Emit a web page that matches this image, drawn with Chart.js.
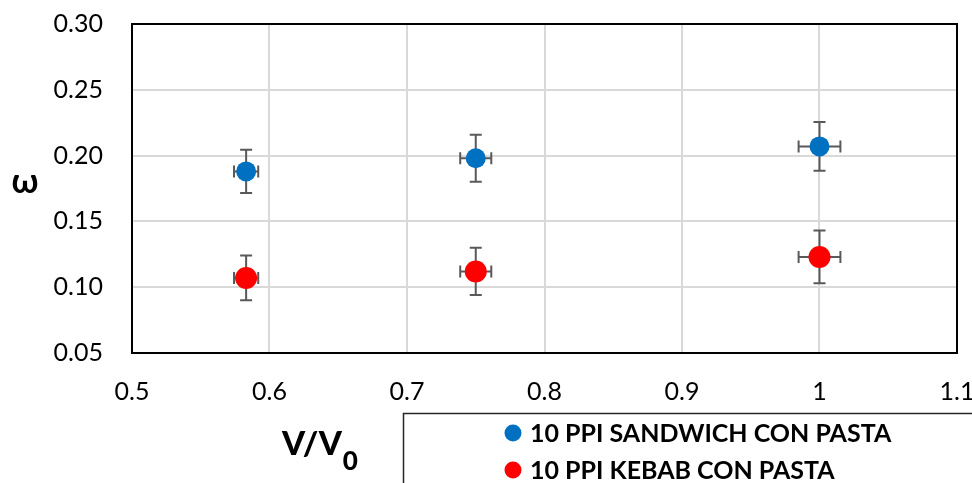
<!doctype html>
<html lang="en">
  <head>
    <meta charset="utf-8">
    <title>V/V0 vs omega</title>
    <style>
      * {
        margin: 0;
        padding: 0;
      }
      body {
        background: #fff;
      }
    </style>
  </head>
  <body>
    <canvas id="myChart" width="972" height="483"></canvas>
    <script src="https://cdn.jsdelivr.net/npm/chart.js"></script>
    <script>
    // data
    const ratio = [0.583, 0.75, 1.0];
    const ratioErr = [0.0088, 0.0113, 0.0152];

    const sandwich = [0.188, 0.198, 0.207];
    const sandwichErr = [0.0165, 0.0178, 0.0186];

    const kebab = [0.107, 0.112, 0.123];
    const kebabErr = [0.017, 0.018, 0.020];

    const xTicks = [0.5, 0.6, 0.7, 0.8, 0.9, 1, 1.1];
    const yTicks = [0.05, 0.10, 0.15, 0.20, 0.25, 0.30];

    const seriesNames = ['10 PPI SANDWICH CON PASTA', '10 PPI KEBAB CON PASTA'];
    const seriesColors = ['#0070C0', '#FF0000'];

    const FONT = 'Lato';

    // setup
    const data = {
      datasets: [{
        label: seriesNames[0],
        data: ratio.map((x, i) => ({ x: x, y: sandwich[i] })),
        yErr: sandwichErr,
        backgroundColor: seriesColors[0],
        pointRadius: 10,
        pointBorderWidth: 0
      }, {
        label: seriesNames[1],
        data: ratio.map((x, i) => ({ x: x, y: kebab[i] })),
        yErr: kebabErr,
        backgroundColor: seriesColors[1],
        pointRadius: 11,
        pointBorderWidth: 0
      }]
    };

    // error bars, drawn under the markers
    const errorBars = {
      id: 'errorBars',
      beforeDatasetsDraw(chart) {
        const ctx = chart.ctx;
        const xs = chart.scales.x;
        const ys = chart.scales.y;
        const cap = 6;
        ctx.save();
        ctx.strokeStyle = '#595959';
        ctx.lineWidth = 2;
        chart.data.datasets.forEach(ds => {
          ds.data.forEach((p, i) => {
            const px = xs.getPixelForValue(p.x);
            const py = ys.getPixelForValue(p.y);
            const top = ys.getPixelForValue(p.y + ds.yErr[i]);
            const bot = ys.getPixelForValue(p.y - ds.yErr[i]);
            const lft = xs.getPixelForValue(p.x - ratioErr[i]);
            const rgt = xs.getPixelForValue(p.x + ratioErr[i]);
            ctx.beginPath();
            ctx.moveTo(px, top); ctx.lineTo(px, bot);
            ctx.moveTo(px - cap, top); ctx.lineTo(px + cap, top);
            ctx.moveTo(px - cap, bot); ctx.lineTo(px + cap, bot);
            ctx.moveTo(lft, py); ctx.lineTo(rgt, py);
            ctx.moveTo(lft, py - cap); ctx.lineTo(lft, py + cap);
            ctx.moveTo(rgt, py - cap); ctx.lineTo(rgt, py + cap);
            ctx.stroke();
          });
        });
        ctx.restore();
      }
    };

    // frame, axis titles and the boxed legend
    const extras = {
      id: 'extras',
      afterDraw(chart) {
        const ctx = chart.ctx;
        const a = chart.chartArea;
        ctx.save();
        ctx.strokeStyle = '#000';
        ctx.lineWidth = 2;
        ctx.strokeRect(a.left, a.top, a.right - a.left, a.bottom - a.top);

        ctx.fillStyle = '#000';
        ctx.textBaseline = 'alphabetic';
        ctx.textAlign = 'center';
        ctx.font = 'bold 34px ' + FONT;
        ctx.fillText('ω', 25, 193);

        ctx.textAlign = 'left';
        ctx.font = '900 33px ' + FONT;
        ctx.fillText('V/V', 282, 455);
        const w = ctx.measureText('V/V').width;
        ctx.font = '900 26px ' + FONT;
        ctx.fillText('0', 282 + w + 1, 470);

        // legend
        ctx.strokeStyle = '#262626';
        ctx.lineWidth = 1.5;
        ctx.strokeRect(403.5, 413.5, 600, 100);
        ctx.font = 'bold 25px ' + FONT;
        ctx.textBaseline = 'middle';
        const rows = [433, 470];
        chart.data.datasets.forEach((ds, i) => {
          ctx.fillStyle = ds.backgroundColor;
          ctx.beginPath();
          ctx.arc(513, rows[i], 8.5, 0, Math.PI * 2);
          ctx.fill();
          ctx.fillStyle = '#000';
          ctx.fillText(ds.label, 530, rows[i] + 1);
        });
        ctx.restore();
      }
    };

    // config
    const config = {
      type: 'scatter',
      data,
      options: {
        responsive: false,
        animation: false,
        layout: {
          padding: { top: 24, right: 15, left: 0, bottom: 0 }
        },
        plugins: {
          legend: { display: false },
          tooltip: { enabled: false }
        },
        scales: {
          x: {
            type: 'linear',
            min: 0.5,
            max: 1.1,
            afterBuildTicks: s => { s.ticks = xTicks.map(v => ({ value: v })); },
            afterFit: s => { s.height = 130; s.paddingLeft = 0; s.paddingRight = 0; },
            ticks: {
              padding: 24,
              color: '#000',
              font: { family: FONT, size: 25 },
              callback: v => String(v)
            },
            grid: { color: '#d9d9d9', lineWidth: 2, drawTicks: false },
            border: { color: '#000', width: 2 }
          },
          y: {
            type: 'linear',
            min: 0.05,
            max: 0.30,
            afterBuildTicks: s => { s.ticks = yTicks.map(v => ({ value: v })); },
            afterFit: s => { s.width = 132; s.paddingTop = 0; s.paddingBottom = 0; },
            ticks: {
              padding: 29,
              color: '#000',
              font: { family: FONT, size: 25 },
              callback: v => v.toFixed(2)
            },
            grid: { color: '#d9d9d9', lineWidth: 2, drawTicks: false },
            border: { color: '#000', width: 2 }
          }
        }
      },
      plugins: [errorBars, extras]
    };

    // render init block
    const myChart = new Chart(
      document.getElementById('myChart'),
      config
    );
    </script>
  </body>
</html>
